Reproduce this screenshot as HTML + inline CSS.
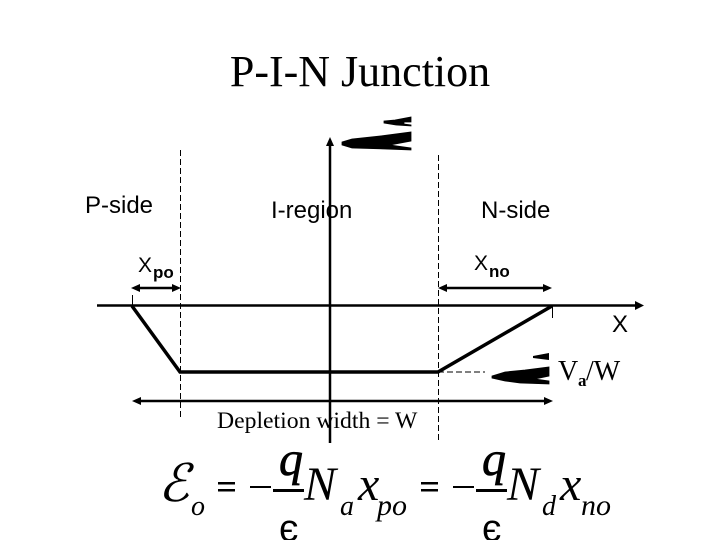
<!DOCTYPE html>
<html>
<head>
<meta charset="utf-8">
<style>
html,body{margin:0;padding:0;background:#fff}
svg{display:block}
.se{font-family:"Liberation Serif",serif}
.sa{font-family:"Liberation Sans",sans-serif}
</style>
</head>
<body>
<svg width="720" height="540" viewBox="0 0 720 540" xmlns="http://www.w3.org/2000/svg">
<rect width="720" height="540" fill="#fff"/>
<text class="se" x="360" y="86" font-size="44" text-anchor="middle">P-I-N Junction</text>

<!-- dashed -->
<path d="M180.500 150V420" stroke="#000" stroke-width="1" stroke-dasharray="6 3" fill="none"/>
<path d="M438.500 155V440" stroke="#000" stroke-width="1" stroke-dasharray="6 3" fill="none"/>
<path d="M438 372H485" stroke="#000" stroke-width="1" stroke-dasharray="6 3" fill="none"/>

<!-- axes -->
<path d="M97 305.500H638" stroke="#000" stroke-width="2.500" fill="none"/>
<path d="M644 305.500L635 301V310Z" fill="#000"/>
<path d="M330 141V443" stroke="#000" stroke-width="2.500" fill="none"/>
<path d="M330 137L326 146H334Z" fill="#000"/>

<!-- ticks -->
<path d="M132.500 295V306M552.500 306V318" stroke="#000" stroke-width="1" fill="none"/>

<!-- profile -->
<path d="M132 306L180 372H438L552 306" stroke="#000" stroke-width="3.500" fill="none"/>

<!-- dimension arrows -->
<path d="M136 288H176" stroke="#000" stroke-width="2.500" fill="none"/>
<path d="M131 288L140 284V292ZM181 288L172 284V292Z" fill="#000"/>
<path d="M444 288H548" stroke="#000" stroke-width="2.500" fill="none"/>
<path d="M438 288L447 284V292ZM552 288L543 284V292Z" fill="#000"/>
<path d="M138 401H548" stroke="#000" stroke-width="2.500" fill="none"/>
<path d="M132 401L141 397V405ZM553 401L544 397V405Z" fill="#000"/>

<!-- blurred blobs -->
<g fill="#000">
<path d="M384 121L395 120L411 117V122L404 122V124L411 125V126L396 125L384 123Z" stroke="#000" stroke-width="0.800"/>
<path d="M342 142L352 139L380 136L411 132V141L390 145L411 148V150L385 149L352 148L342 145Z" stroke="#000" stroke-width="0.800"/>
<path d="M533 356L549 353V360L533 358Z"/>
<path d="M492 376L505 372L525 370L549 367V376L535 379L549 381V384L520 383L505 381L492 378Z" stroke="#000" stroke-width="0.800"/>
</g>

<!-- labels -->
<text class="sa" x="85" y="213" font-size="24">P-side</text>
<text class="sa" x="271" y="218" font-size="24">I-region</text>
<text class="sa" x="481" y="218" font-size="24">N-side</text>
<text class="sa" x="138" y="272" font-size="21">X</text>
<text class="sa" x="153" y="278" font-size="17" font-weight="bold">po</text>
<text class="sa" x="474" y="270" font-size="21">X</text>
<text class="sa" x="489" y="277" font-size="17" font-weight="bold">no</text>
<text class="sa" x="612" y="332" font-size="24">X</text>
<text class="se" x="558" y="380" font-size="28">V</text>
<text class="se" x="578" y="386" font-size="17" font-weight="bold">a</text>
<text class="se" x="586" y="380" font-size="28">/W</text>
<text class="se" x="217" y="428" font-size="23.700">Depletion width = W</text>

<!-- equation -->
<g class="se">
<text x="158" y="501" font-size="52" font-style="italic">&#8496;</text>
<text x="191" y="515" font-size="28" font-style="italic">o</text>
<rect x="218" y="482" width="17" height="2.500" fill="#000"/>
<rect x="218" y="489" width="17" height="2.500" fill="#000"/>
<rect x="250" y="486" width="21" height="2" fill="#000"/>
<text x="279" y="475" font-size="48" font-style="italic" stroke="#000" stroke-width="0.700">q</text>
<rect x="273" y="489" width="31" height="3" fill="#000"/>
<text x="279" y="541" font-size="38" class="sa">&#1108;</text>
<text x="304" y="500" font-size="48" font-style="italic">N</text>
<text x="340" y="515" font-size="28" font-style="italic">a</text>
<text x="358" y="500" font-size="48" font-style="italic">x</text>
<text x="377" y="515" font-size="30" font-style="italic">po</text>
<rect x="421" y="482" width="17" height="2.500" fill="#000"/>
<rect x="421" y="489" width="17" height="2.500" fill="#000"/>
<rect x="453" y="486" width="21" height="2" fill="#000"/>
<text x="482" y="475" font-size="48" font-style="italic" stroke="#000" stroke-width="0.700">q</text>
<rect x="476" y="489" width="31" height="3" fill="#000"/>
<text x="482" y="541" font-size="38" class="sa">&#1108;</text>
<text x="507" y="500" font-size="48" font-style="italic">N</text>
<text x="542" y="515" font-size="28" font-style="italic">d</text>
<text x="560" y="500" font-size="48" font-style="italic">x</text>
<text x="581" y="515" font-size="30" font-style="italic">no</text>
</g>
</svg>
</body>
</html>
